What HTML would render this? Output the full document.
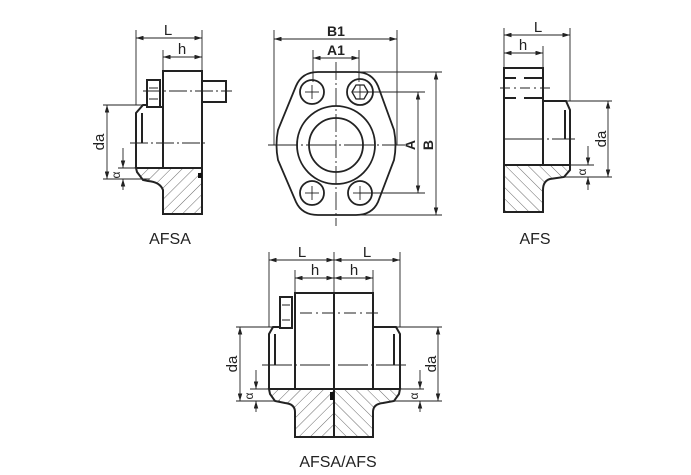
<!DOCTYPE html>
<html><head><meta charset="utf-8"><style>
html,body{margin:0;padding:0;background:#fff;}
svg{display:block;}
text{font-family:"Liberation Sans",sans-serif;fill:#222;}
</style></head><body>
<svg width="691" height="475" viewBox="0 0 691 475" xmlns="http://www.w3.org/2000/svg">
<defs>
<pattern id="hr" patternUnits="userSpaceOnUse" width="8" height="8" patternTransform="rotate(45)"><line x1="0" y1="0" x2="0" y2="8" stroke="#444" stroke-width="0.8"/></pattern>
<pattern id="hl" patternUnits="userSpaceOnUse" width="8" height="8" patternTransform="rotate(-45)"><line x1="0" y1="0" x2="0" y2="8" stroke="#444" stroke-width="0.8"/></pattern>
<marker id="a" viewBox="0 0 10 6" refX="10" refY="3" markerWidth="9" markerHeight="5" orient="auto-start-reverse"><path d="M0,0 L10,3 L0,6 Z" fill="#222"/></marker>
</defs>
<g stroke="#222" fill="none">
<!-- ===== AFSA ===== -->
<g stroke-width="0.9">
<line x1="136" y1="30" x2="136" y2="105"/><line x1="202" y1="30" x2="202" y2="71"/><line x1="163" y1="50" x2="163" y2="71"/>
<line x1="136" y1="38" x2="202" y2="38" marker-start="url(#a)" marker-end="url(#a)"/>
<line x1="163" y1="57" x2="202" y2="57" marker-start="url(#a)" marker-end="url(#a)"/>
<line x1="103" y1="105" x2="143" y2="105"/><line x1="103" y1="179" x2="150" y2="179"/><line x1="118" y1="168" x2="136" y2="168"/>
<line x1="107" y1="105" x2="107" y2="179" marker-start="url(#a)" marker-end="url(#a)"/>
<line x1="123" y1="148" x2="123" y2="168" marker-end="url(#a)"/>
<line x1="123" y1="190" x2="123" y2="179" marker-end="url(#a)"/>
<line x1="130" y1="143" x2="208" y2="143" stroke-dasharray="18,3,2,3"/>
<line x1="143" y1="91" x2="232" y2="91" stroke-dasharray="18,3,2,3"/>
</g>
<path d="M136,168 L202,168 L202,214 L163,214 L163,190 Q160,182 148,181 L143,180 L137,172 Z" fill="url(#hr)" stroke-width="2"/>
<g stroke-width="2">
<rect x="163" y="71" width="39" height="97"/>
<rect x="202" y="81" width="24" height="21"/>
<rect x="147" y="80" width="13" height="27"/>
<path d="M147,105 L143,105 L136,113 L136,168"/>
<line x1="142" y1="113" x2="142" y2="143"/><line x1="160" y1="107" x2="163" y2="107"/>
</g>
<g stroke-width="1"><line x1="149" y1="88" x2="158" y2="88"/><line x1="149" y1="99" x2="158" y2="99"/></g>
<rect x="198" y="173" width="4" height="5" fill="#111" stroke="none"/>
<!-- ===== Flange ===== -->
<g stroke-width="0.9">
<line x1="274" y1="30" x2="274" y2="145"/><line x1="397" y1="30" x2="397" y2="145"/>
<line x1="274" y1="39" x2="397" y2="39" marker-start="url(#a)" marker-end="url(#a)"/>
<line x1="313" y1="50" x2="313" y2="82"/><line x1="359" y1="50" x2="359" y2="82"/>
<line x1="313" y1="58" x2="359" y2="58" marker-start="url(#a)" marker-end="url(#a)"/>
<line x1="360" y1="92" x2="425" y2="92"/><line x1="360" y1="193" x2="425" y2="193"/>
<line x1="418" y1="92" x2="418" y2="193" marker-start="url(#a)" marker-end="url(#a)"/>
<line x1="359" y1="72" x2="442" y2="72"/><line x1="336" y1="215" x2="442" y2="215"/>
<line x1="436" y1="72" x2="436" y2="215" marker-start="url(#a)" marker-end="url(#a)"/>
<line x1="336" y1="62" x2="336" y2="226" stroke-dasharray="18,3,2,3"/>
<line x1="268" y1="145" x2="405" y2="145" stroke-dasharray="30,3,2,3"/>
<line x1="305" y1="92" x2="319" y2="92"/><line x1="312" y1="85" x2="312" y2="99"/>
<line x1="305" y1="193" x2="319" y2="193"/><line x1="312" y1="186" x2="312" y2="200"/>
<line x1="353" y1="193" x2="367" y2="193"/><line x1="360" y1="186" x2="360" y2="200"/>
<line x1="353" y1="92" x2="367" y2="92"/><line x1="360" y1="85" x2="360" y2="99"/>
</g>
<g stroke-width="1.8">
<path d="M318,72 L356,72 Q372,72 378,86 L394,130 Q397,145 394,160 L378,202 Q372,215 356,215 L318,215 Q302,215 296,202 L278,160 Q275,145 278,130 L296,86 Q302,72 318,72 Z"/>
<circle cx="312" cy="92" r="12"/><circle cx="360" cy="92" r="13"/>
<circle cx="312" cy="193" r="12"/><circle cx="360" cy="193" r="12"/>
<circle cx="336" cy="145" r="39"/><circle cx="336" cy="145" r="27"/>
<path d="M352,92 L356,85 L364,85 L368,92 L364,99 L356,99 Z" stroke-width="1.3"/>
</g>
<!-- ===== AFS ===== -->
<g stroke-width="0.9">
<line x1="504" y1="28" x2="504" y2="68"/><line x1="570" y1="28" x2="570" y2="101"/><line x1="543" y1="46" x2="543" y2="68"/>
<line x1="504" y1="35" x2="570" y2="35" marker-start="url(#a)" marker-end="url(#a)"/>
<line x1="504" y1="53" x2="543" y2="53" marker-start="url(#a)" marker-end="url(#a)"/>
<line x1="566" y1="101" x2="612" y2="101"/><line x1="560" y1="177" x2="612" y2="177"/><line x1="570" y1="165" x2="594" y2="165"/>
<line x1="608" y1="101" x2="608" y2="177" marker-start="url(#a)" marker-end="url(#a)"/>
<line x1="588" y1="146" x2="588" y2="165" marker-end="url(#a)"/>
<line x1="588" y1="190" x2="588" y2="177" marker-end="url(#a)"/>
<line x1="500" y1="88" x2="550" y2="88" stroke-dasharray="10,4,2,4"/>
<line x1="504" y1="139" x2="575" y2="139" stroke-dasharray="40,3,2,3"/>
</g>
<path d="M504,165 L570,165 L570,170 L564,177 L550,179 Q543,181 543,190 L543,212 L504,212 Z" fill="url(#hl)" stroke-width="2"/>
<g stroke-width="2">
<rect x="504" y="68" width="39" height="97"/>
<path d="M543,101 L566,101 L570,110 L570,165"/>
<line x1="565" y1="110" x2="565" y2="139"/><line x1="543" y1="101" x2="543" y2="139"/>
<line x1="504" y1="78" x2="516" y2="78"/><line x1="524" y1="78" x2="543" y2="78"/>
<line x1="504" y1="98" x2="516" y2="98"/><line x1="524" y1="98" x2="543" y2="98"/>
</g>
<!-- ===== AFSA/AFS ===== -->
<g stroke-width="0.9">
<line x1="269" y1="252" x2="269" y2="327"/><line x1="334" y1="252" x2="334" y2="293"/><line x1="400" y1="252" x2="400" y2="327"/>
<line x1="295" y1="270" x2="295" y2="293"/><line x1="373" y1="270" x2="373" y2="293"/>
<line x1="269" y1="260" x2="334" y2="260" marker-start="url(#a)" marker-end="url(#a)"/>
<line x1="334" y1="260" x2="400" y2="260" marker-start="url(#a)" marker-end="url(#a)"/>
<line x1="295" y1="278" x2="334" y2="278" marker-start="url(#a)" marker-end="url(#a)"/>
<line x1="334" y1="278" x2="373" y2="278" marker-start="url(#a)" marker-end="url(#a)"/>
<line x1="236" y1="327" x2="273" y2="327"/><line x1="236" y1="401" x2="280" y2="401"/><line x1="250" y1="389" x2="269" y2="389"/>
<line x1="240" y1="327" x2="240" y2="401" marker-start="url(#a)" marker-end="url(#a)"/>
<line x1="256" y1="370" x2="256" y2="389" marker-end="url(#a)"/>
<line x1="256" y1="412" x2="256" y2="401" marker-end="url(#a)"/>
<line x1="396" y1="327" x2="442" y2="327"/><line x1="390" y1="401" x2="442" y2="401"/><line x1="400" y1="389" x2="424" y2="389"/>
<line x1="438" y1="327" x2="438" y2="401" marker-start="url(#a)" marker-end="url(#a)"/>
<line x1="420" y1="370" x2="420" y2="389" marker-end="url(#a)"/>
<line x1="420" y1="412" x2="420" y2="401" marker-end="url(#a)"/>
<line x1="262" y1="365" x2="408" y2="365" stroke-dasharray="30,3,2,3"/>
<line x1="300" y1="313" x2="380" y2="313" stroke-dasharray="12,4,2,4"/>
</g>
<path d="M269,389 L334,389 L334,437 L295,437 L295,412 Q295,404 285,403 L275,401 L270,394 Z" fill="url(#hr)" stroke-width="2"/>
<path d="M334,389 L400,389 L399,394 L394,401 L383,403 Q373,404 373,412 L373,437 L334,437 Z" fill="url(#hl)" stroke-width="2"/>
<g stroke-width="2">
<rect x="295" y="293" width="78" height="96"/>
<line x1="334" y1="293" x2="334" y2="437"/>
<path d="M280,327 L273,327 L269,334 L269,389"/>
<path d="M373,327 L396,327 L400,334 L400,389"/>
<line x1="275" y1="334" x2="275" y2="365"/><line x1="394" y1="334" x2="394" y2="365"/>
<rect x="280" y="297" width="12" height="31"/>
</g>
<g stroke-width="1"><line x1="282" y1="305" x2="290" y2="305"/><line x1="282" y1="320" x2="290" y2="320"/></g>
<rect x="330" y="392" width="4" height="8" fill="#111" stroke="none"/>
</g>
<!-- Labels -->
<text x="168" y="35" font-size="15" text-anchor="middle">L</text>
<text x="182" y="54" font-size="15" text-anchor="middle">h</text>
<text x="336" y="36" font-size="14" text-anchor="middle" font-weight="bold">B1</text>
<text x="336" y="55" font-size="14" text-anchor="middle" font-weight="bold">A1</text>
<text x="538" y="32" font-size="15" text-anchor="middle">L</text>
<text x="523" y="50" font-size="15" text-anchor="middle">h</text>
<text x="302" y="257" font-size="15" text-anchor="middle">L</text>
<text x="367" y="257" font-size="15" text-anchor="middle">L</text>
<text x="315" y="275" font-size="15" text-anchor="middle">h</text>
<text x="354" y="275" font-size="15" text-anchor="middle">h</text>
<g font-size="15">
<text transform="translate(104,142) rotate(-90)" text-anchor="middle">da</text>
<text transform="translate(120,175) rotate(-90)" text-anchor="middle" font-size="12">α</text>
<text transform="translate(606,139) rotate(-90)" text-anchor="middle">da</text>
<text transform="translate(586,172) rotate(-90)" text-anchor="middle" font-size="12">α</text>
<text transform="translate(237,364) rotate(-90)" text-anchor="middle">da</text>
<text transform="translate(253,396) rotate(-90)" text-anchor="middle" font-size="12">α</text>
<text transform="translate(436,364) rotate(-90)" text-anchor="middle">da</text>
<text transform="translate(418,396) rotate(-90)" text-anchor="middle" font-size="12">α</text>
<text transform="translate(415,145) rotate(-90)" text-anchor="middle" font-weight="bold" font-size="14">A</text>
<text transform="translate(433,145) rotate(-90)" text-anchor="middle" font-weight="bold" font-size="14">B</text>
</g>
<text x="170" y="244" font-size="16" text-anchor="middle">AFSA</text>
<text x="535" y="244" font-size="16" text-anchor="middle">AFS</text>
<text x="338" y="467" font-size="16" text-anchor="middle">AFSA/AFS</text>
</svg>
</body></html>
